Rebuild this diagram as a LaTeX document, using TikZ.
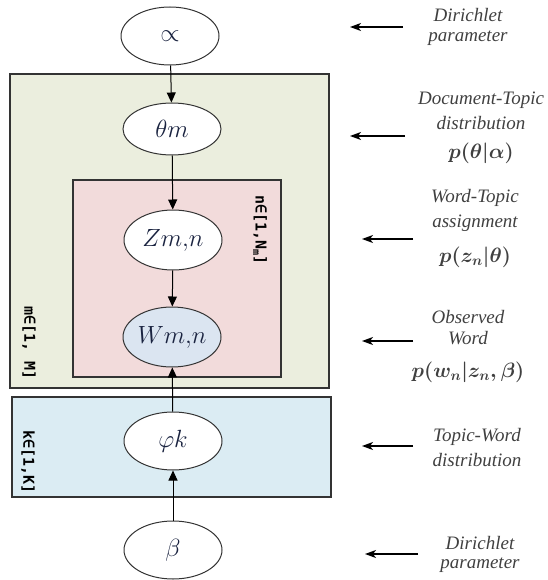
\documentclass[tikz,border=0pt]{standalone}
\usepackage{fontspec}
\setmainfont{Liberation Serif}
\newfontfamily\platefont{DejaVu Sans Mono}
\usetikzlibrary{shapes.geometric,arrows.meta}
\definecolor{plateG}{HTML}{EBEEDE}
\definecolor{plateR}{HTML}{F2DBDB}
\definecolor{plateB}{HTML}{DBECF3}
\definecolor{obsfill}{HTML}{DBE5F1}
\definecolor{edgeC}{HTML}{333333}
\definecolor{varC}{HTML}{1A2340}
\definecolor{lblC}{HTML}{404040}
\tikzset{
  platebox/.style={draw=edgeC,line width=1.3pt},
  var/.style={ellipse,draw=edgeC,line width=1pt,fill=white,minimum width=98pt,minimum height=58pt,inner sep=0pt,
    text=varC,font=\fontsize{24}{28}\selectfont},
  link/.style={line width=1pt,-{Triangle[width=9pt,length=10pt]}},
  sidearrow/.style={line width=1.3pt,-{Stealth[width=8pt,length=11pt,inset=3pt]}},
  lbl/.style={text=lblC,font=\fontsize{19}{22}\itshape\selectfont,inner sep=0pt},
  lblmath/.style={text=lblC,font=\fontsize{22}{26}\selectfont\boldmath,inner sep=0pt},
  platelbl/.style={rotate=-90,font=\platefont\bfseries\fontsize{15}{17}\selectfont,inner sep=0pt}
}
\begin{document}
\begin{tikzpicture}[x=1pt,y=-1pt]
\useasboundingbox (0,0) rectangle (547,580);
% plates
\draw[platebox,fill=plateG] (10,74) rectangle (329,388);
\draw[platebox,fill=plateR] (73,180) rectangle (281,377);
\draw[platebox,fill=plateB] (12,397) rectangle (331,497);
% plate labels
\node[platelbl] (ln) at (260,230) {n∈[1,N\raisebox{-0.3ex}{\fontsize{10}{11}\selectfont m}]};
\node[platelbl] (lm) at (29,343) {m∈[1, M]};
\node[platelbl] (lk) at (28,462) {k∈[1,K]};
% variables
\node[var] (alpha) at (170,36) {$\propto$};
\node[var,minimum height=52pt] (theta) at (172,129) {$\theta m$};
\node[var,minimum height=60pt] (z) at (173,240) {$Zm{,}n$};
\node[var,minimum height=60pt,fill=obsfill] (w) at (172,337) {$Wm{,}n$};
\node[var] (phi) at (173,441) {$\varphi k$};
\node[var] (beta) at (173,550) {$\beta$};
% links
\draw[link] (alpha) -- (theta);
\draw[link] (theta) -- (z);
\draw[link] (z) -- (w);
\draw[link] (phi) -- (w);
\draw[link] (beta) -- (phi);
% side arrows
\coordinate (s1a) at (403,27); \coordinate (s1b) at (350,27);
\coordinate (s2a) at (405,136); \coordinate (s2b) at (350,136);
\coordinate (s3a) at (413,239); \coordinate (s3b) at (362,239);
\coordinate (s4a) at (413,341); \coordinate (s4b) at (362,341);
\coordinate (s5a) at (413,446); \coordinate (s5b) at (362,446);
\coordinate (s6a) at (418,554); \coordinate (s6b) at (365,554);
\draw[sidearrow] (s1a) -- (s1b);
\draw[sidearrow] (s2a) -- (s2b);
\draw[sidearrow] (s3a) -- (s3b);
\draw[sidearrow] (s4a) -- (s4b);
\draw[sidearrow] (s5a) -- (s5b);
\draw[sidearrow] (s6a) -- (s6b);
% side labels
\node[lbl] (t1a) at (468,15) {Dirichlet};
\node[lbl] (t1b) at (468,38) {parameter};
\node[lbl] (t2a) at (481,100) {Document-Topic};
\node[lbl] (t2b) at (481,123) {distribution};
\node[lblmath] (t2c) at (481,153) {$p(\theta|\alpha)$};
\node[lbl] (t3a) at (475,198) {Word-Topic};
\node[lbl] (t3b) at (475,223) {assignment};
\node[lblmath] (t3c) at (475,257) {$p(z_n|\theta)$};
\node[lbl] (t4a) at (468,317) {Observed};
\node[lbl] (t4b) at (468,338) {Word};
\node[lblmath] (t4c) at (468,372) {$p(w_n|z_n,\beta)$};
\node[lbl] (t5a) at (477,437) {Topic-Word};
\node[lbl] (t5b) at (477,460) {distribution};
\node[lbl] (t6a) at (480,543) {Dirichlet};
\node[lbl] (t6b) at (480,565) {parameter};
\end{tikzpicture}
\end{document}
